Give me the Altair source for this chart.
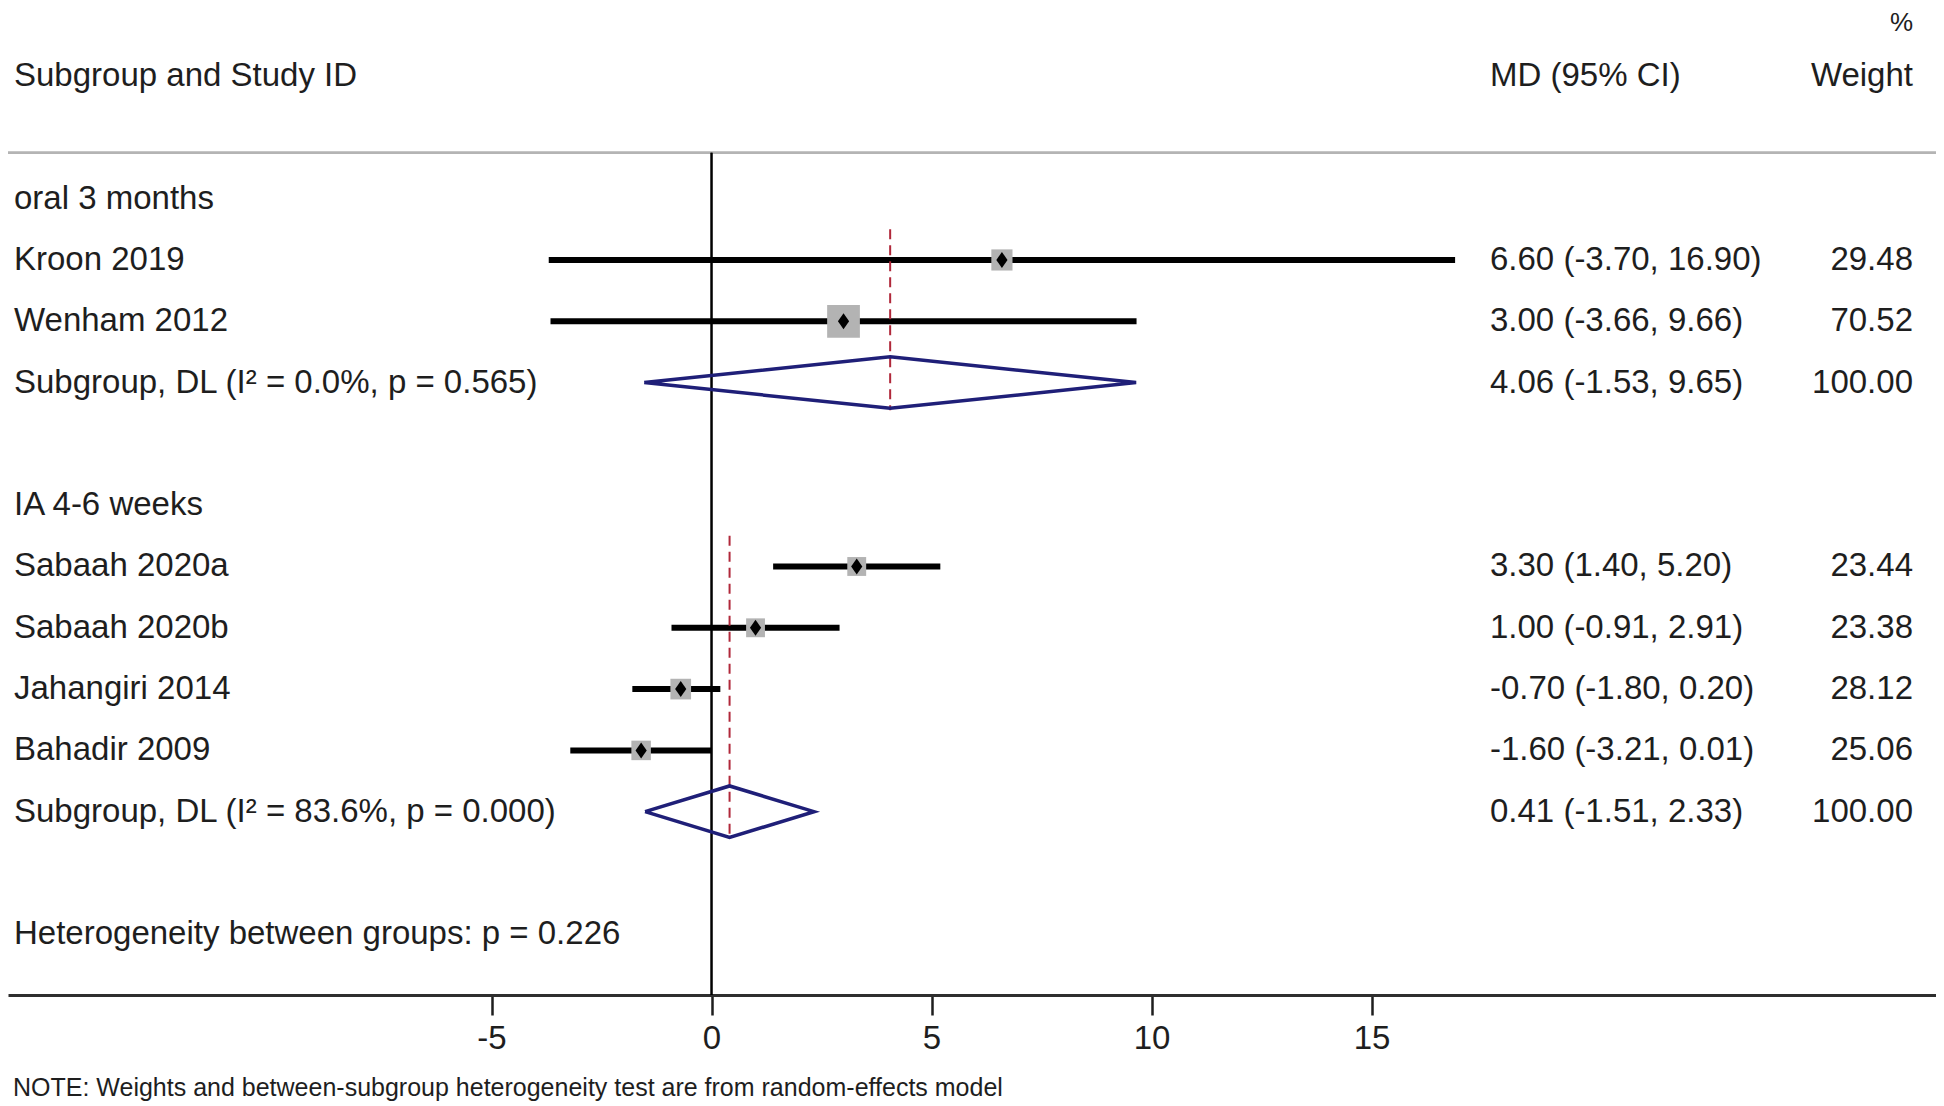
import altair as alt
import pandas as pd

# ---------------- data ----------------
groups = ["oral 3 months", "IA 4-6 weeks"]
study_group = ["oral 3 months", "oral 3 months", "IA 4-6 weeks", "IA 4-6 weeks",
               "IA 4-6 weeks", "IA 4-6 weeks"]
study_names = ["Kroon 2019", "Wenham 2012", "Sabaah 2020a", "Sabaah 2020b",
               "Jahangiri 2014", "Bahadir 2009"]
study_md = [6.60, 3.00, 3.30, 1.00, -0.70, -1.60]
study_lo = [-3.70, -3.66, 1.40, -0.91, -1.80, -3.21]
study_hi = [16.90, 9.66, 5.20, 2.91, 0.20, 0.01]
study_weight = [29.48, 70.52, 23.44, 23.38, 28.12, 25.06]

pooled_md = [4.06, 0.41]
pooled_lo = [-1.53, -1.51]
pooled_hi = [9.65, 2.33]
pooled_i2 = ["0.0%", "83.6%"]
pooled_p = ["0.565", "0.000"]
het_between_p = "0.226"

x_ticks = [-5, 0, 5, 10, 15]
note_text = "NOTE: Weights and between-subgroup heterogeneity test are from random-effects model"

# ---------------- layout / style ----------------
FONT = "Liberation Sans"
FS = 33
TXT = "#1e1e1e"
W, H = 1928, 987
X_DOMAIN = [-15.99, 27.83]
Y_DOMAIN = [-3.11, 12.99]
SQ_K = 15.2          # square area per % weight
DIAMOND_HALF = 0.42  # pooled diamond half height (rows)

# ---------------- build rows ----------------
label_rows, study_rows, pooled_rows = [], [], []
r = 0
for gi, g in enumerate(groups):
    label_rows.append(dict(row=r, label=g, mdtxt="", wt=""))
    r += 1
    first = r
    for i, sg in enumerate(study_group):
        if sg != g:
            continue
        study_rows.append(dict(row=r, md=study_md[i], lo=study_lo[i], hi=study_hi[i],
                               size=study_weight[i] * SQ_K))
        label_rows.append(dict(row=r, label=study_names[i],
                               mdtxt=f"{study_md[i]:.2f} ({study_lo[i]:.2f}, {study_hi[i]:.2f})",
                               wt=f"{study_weight[i]:.2f}"))
        r += 1
    pooled_rows.append(dict(row=r, top=first - 0.5, bot=r + 0.45, md=pooled_md[gi],
                            lo=pooled_lo[gi], hi=pooled_hi[gi], group=g))
    label_rows.append(dict(row=r, label=f"Subgroup, DL (I\u00b2 = {pooled_i2[gi]}, p = {pooled_p[gi]})",
                           mdtxt=f"{pooled_md[gi]:.2f} ({pooled_lo[gi]:.2f}, {pooled_hi[gi]:.2f})",
                           wt="100.00"))
    r += 2
het_row = r
label_rows.append(dict(row=r, label=f"Heterogeneity between groups: p = {het_between_p}",
                       mdtxt="", wt=""))

df_lab = pd.DataFrame(label_rows)
df_st = pd.DataFrame(study_rows)
df_pool = pd.DataFrame(pooled_rows)

poly = []
for p in pooled_rows:
    pts = [(p["lo"], p["row"]), (p["md"], p["row"] - DIAMOND_HALF), (p["hi"], p["row"]),
           (p["md"], p["row"] + DIAMOND_HALF), (p["lo"], p["row"])]
    for k, (xx, yy) in enumerate(pts):
        poly.append(dict(x=xx, y=yy, o=k, group=p["group"]))
df_poly = pd.DataFrame(poly)

df_head = pd.DataFrame([
    dict(row=-2.0, label="Subgroup and Study ID", col="left"),
    dict(row=-2.0, label="MD (95% CI)", col="md"),
    dict(row=-2.0, label="Weight", col="wt"),
])
SEP_ROW = -0.75
PCT_ROW = -2.862

xs = alt.Scale(domain=X_DOMAIN, nice=False, zero=False)
ys = alt.Scale(domain=Y_DOMAIN, nice=False, zero=False, reverse=True)

x_axis = alt.Axis(values=x_ticks, title=None, grid=False, tickSize=20, tickWidth=2.5,
                  tickColor=TXT, domainColor="#2e2e2e", domainWidth=3, labelFont=FONT,
                  labelFontSize=FS, labelColor=TXT, labelPadding=7, labelFlush=False,
                  labelOverlap=False, labelExpr="'' + datum.value")


def X(field=None, **kw):
    if field is None:
        return alt.X(scale=xs, axis=x_axis, **kw)
    return alt.X(field, scale=xs, axis=x_axis, **kw)


def Y(field=None, **kw):
    if field is None:
        return alt.Y(scale=ys, axis=None, **kw)
    return alt.Y(field, scale=ys, axis=None, **kw)


# CI lines
ci = alt.Chart(df_st).mark_rule(color="black", strokeWidth=6).encode(
    x=X("lo:Q"), x2="hi:Q", y=Y("row:Q"))

# top separator
sep = alt.Chart(df_pool).mark_rule(color="#b4b4b4", strokeWidth=2.5).encode(
    x=alt.value(0), x2=alt.value(W), y=Y(datum=SEP_ROW))

# zero line
zero = alt.Chart(df_pool).mark_rule(color="black", strokeWidth=2).encode(
    x=X(datum=0), y=Y(datum=SEP_ROW), y2=alt.Y2(datum=Y_DOMAIN[1]))

# red dashed lines at pooled estimates
dash = alt.Chart(df_pool).mark_rule(color="#b0283a", strokeWidth=2, strokeDash=[10, 6]).encode(
    x=X("md:Q"), y=Y("top:Q"), y2="bot:Q")

squares = alt.Chart(df_st).mark_square(color="#b3b3b3", opacity=1).encode(
    x=X("md:Q"), y=Y("row:Q"),
    size=alt.Size("size:Q", scale=None, legend=None))

centers = alt.Chart(df_st).mark_point(shape="M0,-1L0.7,0L0,1L-0.7,0Z", filled=True,
                                      color="black", opacity=1, size=256).encode(
    x=X("md:Q"), y=Y("row:Q"))

diamonds = alt.Chart(df_poly).mark_line(color="#1f1f78", strokeWidth=3.5, strokeJoin="miter").encode(
    x=X("x:Q"), y=Y("y:Q"), detail="group:N", order="o:Q")

txt_kw = dict(font=FONT, fontSize=FS, color=TXT, baseline="middle")

left_txt = alt.Chart(df_lab).mark_text(align="left", **txt_kw).encode(
    x=alt.value(6), y=Y("row:Q"), text="label:N")
md_txt = alt.Chart(df_lab).mark_text(align="left", **txt_kw).encode(
    x=alt.value(1482), y=Y("row:Q"), text="mdtxt:N")
wt_txt = alt.Chart(df_lab).mark_text(align="right", **txt_kw).encode(
    x=alt.value(1905), y=Y("row:Q"), text="wt:N")

h_left = alt.Chart(df_head).transform_filter("datum.col == 'left'").mark_text(align="left", **txt_kw).encode(
    x=alt.value(6), y=Y("row:Q"), text="label:N")
h_md = alt.Chart(df_head).transform_filter("datum.col == 'md'").mark_text(align="left", **txt_kw).encode(
    x=alt.value(1482), y=Y("row:Q"), text="label:N")
h_wt = alt.Chart(df_head).transform_filter("datum.col == 'wt'").mark_text(align="right", **txt_kw).encode(
    x=alt.value(1905), y=Y("row:Q"), text="label:N")

pct = alt.Chart(df_pool).transform_filter("datum.row == 3").mark_text(
    align="right", font=FONT, fontSize=26, color=TXT, baseline="middle", text="%").encode(
    x=alt.value(1905), y=Y(datum=PCT_ROW))

note = alt.Chart(df_pool).transform_filter("datum.row == 3").mark_text(
    align="left", font=FONT, fontSize=25, color=TXT, baseline="middle", text=note_text).encode(
    x=alt.value(5), y=Y(datum=het_row + 2.5))

chart = alt.layer(
    ci, sep, zero, dash, squares, centers, diamonds,
    left_txt, md_txt, wt_txt, h_left, h_md, h_wt, pct, note
).properties(
    width=W, height=H,
    autosize=alt.AutoSizeParams(type="none"),
    padding={"left": 0, "top": 0, "right": 0, "bottom": 110},
    background="white",
).configure_view(stroke=None)

chart.save("out.html", embed_options={"renderer": "svg", "actions": False})
